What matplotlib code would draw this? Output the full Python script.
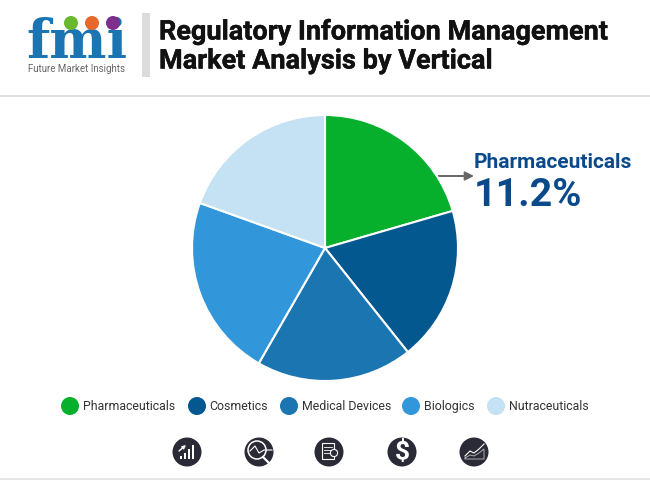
import matplotlib
matplotlib.use('Agg')
import matplotlib.pyplot as plt
import matplotlib.patheffects as pe
from matplotlib.patches import Circle, Rectangle

plt.rcParams['font.family'] = ['Roboto', 'DejaVu Sans']

verticals = ['Pharmaceuticals', 'Cosmetics', 'Medical Devices', 'Biologics', 'Nutraceuticals']
shares = [20.5, 18.8, 19.0, 22.2, 19.5]
colors = ['#06b02c', '#035890', '#1a75b1', '#3196da', '#c5e1f4']
legend_x = [70, 197, 289, 411, 496]
text_x = [83, 209, 302, 424, 509]
icon_x = [187, 259, 329, 402, 474]

f = plt.figure(figsize=(6.5, 4.8), dpi=100)

# page coordinates, same as pixels of the picture
bg = f.add_axes([0, 0, 1, 1])
bg.set_xlim(0, 650)
bg.set_ylim(480, 0)
bg.axis('off')

##### header
bg.add_patch(Rectangle((142, 13), 8, 64, color='#dcdcdc', lw=0))
bg.plot([0, 650], [95.5, 95.5], color='#d9d9d9', lw=1.2)
bg.plot([0, 650], [478.5, 478.5], color='#e4e4e4', lw=2)
heavy = [pe.withStroke(linewidth=0.3, foreground='#111111')]
bg.text(159, 32, 'Regulatory Information Management', fontsize=19.5, fontweight='bold',
        color='#111111', va='center', ha='left', path_effects=heavy)
bg.text(159, 61, 'Market Analysis by Vertical', fontsize=19.5, fontweight='bold',
        color='#111111', va='center', ha='left', path_effects=heavy)

##### logo
bg.text(77, 58, 'fmi', fontsize=39, fontweight='bold', family='DejaVu Serif',
        color='#1b75b3', va='baseline', ha='center')
for y in range(25, 60, 4):
    bg.plot([26, 128], [y, y], color='white', lw=0.7)
bg.add_patch(Circle((71, 23), 7, color='#6ab82e', lw=0, zorder=3))
bg.add_patch(Circle((92, 23), 7, color='#e8672a', lw=0, zorder=3))
bg.add_patch(Circle((113, 23), 7, color='#7d2f8e', lw=0, zorder=3))
bg.text(76.5, 69, 'Future Market Insights', fontsize=7, color='#666666', va='center', ha='center')

##### callout
bg.annotate('', xy=(474, 176), xytext=(438, 176),
            arrowprops=dict(arrowstyle='-|>', color='#666666', lw=1.4, mutation_scale=13, shrinkA=0, shrinkB=0))
bg.text(474, 162, 'Pharmaceuticals', fontsize=15, fontweight='bold', color='#0a4a8a', va='center', ha='left')
bg.text(474, 196, '11.2%', fontsize=28.4, fontweight='bold', color='#0a4a8a', va='center', ha='left')

##### pie
ax = f.add_axes([192 / 650, (480 - 381) / 480, 266 / 650, 266 / 480])
ax.pie(shares, colors=colors, startangle=90, counterclock=False,
       wedgeprops=dict(edgecolor='white', linewidth=1.5))
ax.set_xlim(-1, 1)
ax.set_ylim(-1, 1)

##### legend
for name, col, lx, tx in zip(verticals, colors, legend_x, text_x):
    bg.add_patch(Circle((lx, 406), 9, color=col, lw=0))
    bg.text(tx, 406.5, name, fontsize=8.9, color='#333333', va='center', ha='left')

##### bottom icons
dark = '#2b2b38'
for ix in icon_x:
    bg.add_patch(Circle((ix, 452), 14.5, color=dark, lw=0))

# bars and arrow
for i, h in enumerate([3, 6, 10, 14]):
    bg.add_patch(Rectangle((180 + i * 4, 459 - h), 2.4, h, color='white', lw=0))
bg.annotate('', xy=(186, 445), xytext=(179, 451),
            arrowprops=dict(arrowstyle='-|>', color='white', lw=1, mutation_scale=5, shrinkA=0, shrinkB=0))

# magnifier
bg.add_patch(Circle((257, 450), 9, fill=False, ec='white', lw=1.1))
bg.plot([250, 255, 259, 264, 272], [451, 446, 453, 450, 450], color='white', lw=0.8)
bg.plot([263, 270], [457, 464], color='white', lw=1.6)

# document
bg.add_patch(Rectangle((322, 443), 12, 16, fill=False, ec='white', lw=0.8))
for y in [447, 450, 453]:
    bg.plot([324, 332], [y, y], color='white', lw=0.6)
bg.add_patch(Circle((334, 453), 3.6, fc=dark, ec='white', lw=0.8, zorder=3))

# dollar
bg.text(402, 452.5, '$', fontsize=19, fontweight='bold', color='white', va='center', ha='center')

# area trend
bg.plot([465, 470, 474, 479, 484], [456, 451, 453, 449, 444], color='white', lw=0.8)
bg.plot([465, 470, 474, 479, 484, 484, 465, 465], [458, 455, 456, 453, 449, 459, 459, 458],
        color='#bdbdbd', lw=0.6)

f.savefig('out.png', dpi=100)
